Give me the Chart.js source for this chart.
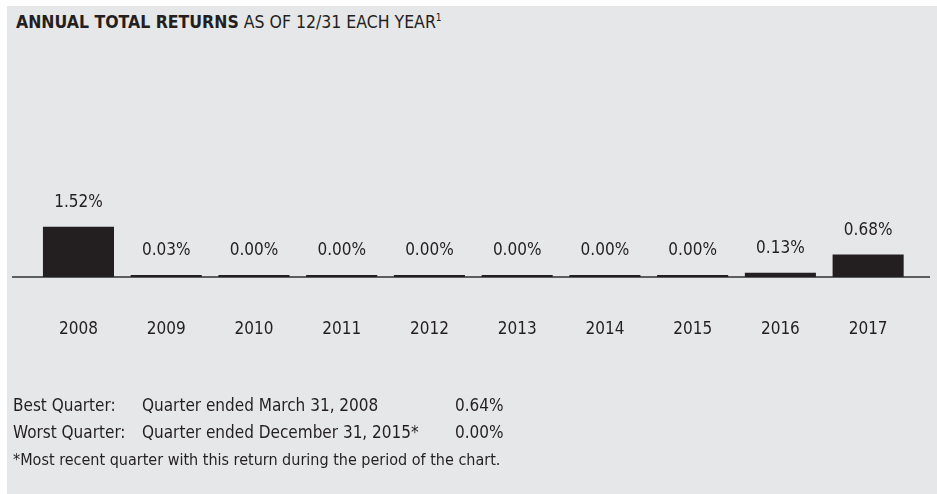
<!DOCTYPE html>
<html>
<head>
<meta charset="utf-8">
<script src="https://cdn.jsdelivr.net/npm/chart.js@4.4.1/dist/chart.umd.min.js"></script>
<style>
  body { margin: 0; background: #fff; }
  #wrap { position: relative; width: 937px; height: 494px; overflow: hidden;
          font-family: "Liberation Sans Narrow", "DejaVu Sans Condensed", sans-serif; color: #231f20; }
  #panel { position: absolute; left: 7px; top: 6px; width: 930px; height: 488px; background: #e6e7e8; }
  #chart { position: absolute; left: 0; top: 0; }
  .txt { position: absolute; font-size: 17px; white-space: nowrap; line-height: 20px; }
  #title { left: 16px; top: 12px; font-size: 17.5px; }
  #title sup { font-size: 10px; vertical-align: 7px; line-height: 0; }
</style>
</head>
<body>
<div id="wrap">
  <div id="panel"></div>
  <div id="title" class="txt"><b>ANNUAL TOTAL RETURNS</b> AS OF 12/31 EACH YEAR<sup>1</sup></div>
  <canvas id="chart" width="937" height="494"></canvas>
  <div class="txt" style="left:13px;top:395px">Best Quarter:</div>
  <div class="txt" style="left:142px;top:395px">Quarter ended March 31, 2008</div>
  <div class="txt" style="left:455px;top:395px">0.64%</div>
  <div class="txt" style="left:13px;top:422px">Worst Quarter:</div>
  <div class="txt" style="left:142px;top:422px">Quarter ended December 31, 2015*</div>
  <div class="txt" style="left:455px;top:422px">0.00%</div>
  <div class="txt" style="left:13px;top:450px;font-size:16px">*Most recent quarter with this return during the period of the chart.</div>
</div>
<script>
const years = ['2008', '2009', '2010', '2011', '2012', '2013', '2014', '2015', '2016', '2017']
const returns = [1.52, 0.03, 0.00, 0.00, 0.00, 0.00, 0.00, 0.00, 0.13, 0.68]

const fontFamily = '"Liberation Sans Narrow", "DejaVu Sans Condensed", sans-serif'

// baseline across the panel, drawn under the bars
const baseline = {
    id: 'baseline',
    beforeDatasetsDraw(chart) {
        const ctx = chart.ctx
        const y = chart.scales.y.getPixelForValue(0)
        ctx.save()
        ctx.strokeStyle = '#5d5e60'
        ctx.lineWidth = 2
        ctx.beginPath()
        ctx.moveTo(12, y)
        ctx.lineTo(930, y)
        ctx.stroke()
        ctx.restore()
    }
}

// value labels above each bar
const valueLabels = {
    id: 'valueLabels',
    afterDatasetsDraw(chart) {
        const ctx = chart.ctx
        const meta = chart.getDatasetMeta(0)
        ctx.save()
        ctx.fillStyle = '#231f20'
        ctx.font = '17px ' + fontFamily
        ctx.textAlign = 'center'
        ctx.textBaseline = 'middle'
        meta.data.forEach((bar, i) => {
            ctx.fillText(returns[i].toFixed(2) + '%', bar.x, bar.y - 24)
        })
        ctx.restore()
    }
}

const chart = new Chart(document.getElementById('chart').getContext('2d'), {
    type: 'bar',
    data: {
        labels: years,
        datasets: [{
            data: returns,
            backgroundColor: '#231f20',
            barPercentage: 0.81,
            categoryPercentage: 1,
            minBarLength: 2
        }]
    },
    options: {
        responsive: false,
        animation: false,
        layout: { padding: { left: 34.6, right: 25, top: 178, bottom: 0 } },
        plugins: { legend: { display: false }, tooltip: { enabled: false } },
        scales: {
            x: {
                grid: { display: false, drawTicks: false },
                border: { display: false },
                ticks: { color: '#231f20', font: { family: fontFamily, size: 17 }, padding: 42 },
                afterFit(axis) { axis.height = 217 }
            },
            y: {
                display: false,
                min: 0,
                max: 3
            }
        }
    },
    plugins: [baseline, valueLabels]
})
</script>
</body>
</html>
